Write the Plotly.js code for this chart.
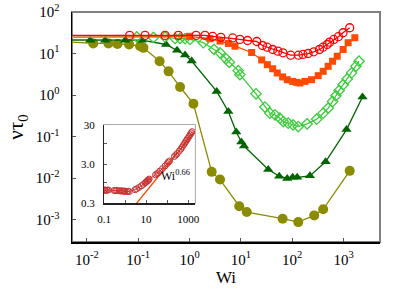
<!DOCTYPE html>
<html>
<head>
<meta charset="utf-8">
<script src="https://cdn.plot.ly/plotly-3.0.1.min.js"></script>
<style>html,body{margin:0;padding:0;background:#fff;}#chart{width:415px;height:291px;}</style>
</head>
<body>
<div id="chart"></div>
<script>
// ---- main panel data (Wi, nu*tau0) ----
const redWi  = [0.003,0.068,0.136,0.333,0.605,1.34,2.0,2.82,4.07,6.92,9.55,13.5,20.4,26.3,32.4,41.7,52.5,66.1,93.3,132,162,204,263,339,398,479,537,646,794,977,1318];
const redVal = [27.3,27.3,27.3,27.3,27.3,27.3,27.3,25.8,24.5,23.7,21.9,20.6,19.5,15.6,14.2,12.5,11.4,10.4,9.1,9.1,9.5,10.0,11.0,12.5,14.2,16.5,18.8,21.8,25.4,31.6,41.7];

const orgWi  = [0.003,1.0,2.51,3.93,5.69,7.67,16.2,25.4,32.7,41.6,51.1,65.0,80.0,102,122,141,177,238,321,401,501,611,752,982,1230,1660];
const orgVal = [26.5,26.0,22.7,19.9,17.5,15.0,10.6,7.0,5.4,4.3,3.4,2.73,2.34,2.13,2.02,1.95,2.13,2.34,2.93,3.72,4.92,6.52,8.6,12.5,18.2,24.0];

const grnWi  = [0.003,0.094,0.198,0.333,0.522,0.653,0.817,1.02,1.85,3.0,3.92,5.13,5.94,8.89,9.59,19.7,29.4,36.8,46.0,57.5,66.8,83.6,104,131,195,299,401,501,611,708,820,982,1175,1430,1740,2000];
const grnVal = [24.4,25.1,24.4,25.1,23.1,23.1,22.7,21.8,18.2,12.5,10.4,7.45,6.15,3.87,3.10,1.07,0.513,0.366,0.333,0.277,0.230,0.210,0.191,0.174,0.202,0.262,0.366,0.484,0.700,0.962,1.29,1.77,2.44,3.41,4.92,6.52];

const dgrWi  = [0.003,0.0116,0.0227,0.0556,0.117,0.349,0.571,0.817,1.10,3.38,5.69,8.13,10.2,11.5,34.1,55.8,80.0,102,125,221,447,1143,2340];
const dgrVal = [21.2,21.0,21.0,21.0,21.0,16.5,12.0,9.2,6.58,1.22,0.401,0.129,0.074,0.059,0.0161,0.0111,0.0098,0.0104,0.0104,0.0113,0.0247,0.147,0.895];

const olvWi  = [0.003,0.0133,0.0263,0.0394,0.0665,0.109,0.126,0.261,0.390,0.653,1.19,2.70,3.92,9.31,13.0,65.0,131,268,401,1318];
const olvVal = [19.5,17.5,17.5,17.0,16.5,15.0,13.7,6.52,3.72,1.56,0.615,0.0141,0.0092,0.0021,0.00152,0.00105,0.00087,0.00126,0.00177,0.0149];

// ---- inset data ----
const insWi  = [0.1,0.11,0.12,0.14,0.16,0.3,0.35,0.4,0.5,0.6,0.7,0.8,0.9,1.0,1.2,1.4,1.6,3.0,3.5,4.5,6.0,7.5,9.0,10,11,12,13,14,28,33,38,45,60,80,100,115,130,220,260,300,380,450,520,600,680,760,850,950,1100,1250,1400,1550];
const insVal = [0.65,0.66,0.64,0.65,0.66,0.64,0.63,0.64,0.63,0.62,0.63,0.61,0.62,0.61,0.60,0.61,0.60,0.67,0.70,0.76,0.84,0.92,1.0,1.05,1.1,1.15,1.2,1.25,1.6,1.7,1.8,2.0,2.3,2.7,3.1,3.4,3.6,4.7,5.1,5.6,6.5,7.3,8.2,9.2,10.2,11.2,12.3,13.5,15.2,17.0,18.8,20.2];
const fitWi  = [3.5, 2100];
const fitVal = [0.30, 20.4];
const fitLabel = 'Wi<sup>0.66</sup>';

const mainTickVals = [0.01,0.1,1,10,100,1000];
const mainTickText = ['10<sup>-2</sup>','10<sup>-1</sup>','10<sup>0</sup>','10<sup>1</sup>','10<sup>2</sup>','10<sup>3</sup>'];
const yTickVals = [0.001,0.01,0.1,1,10,100];
const yTickText = ['10<sup>-3</sup>','10<sup>-2</sup>','10<sup>-1</sup>','10<sup>0</sup>','10<sup>1</sup>','10<sup>2</sup>'];
const insXVals = [0.1,1,10,100,1000];
const insXText = ['0.1','','10','','1000'];
const insYVals = [0.3,1,3,10,30];
const insYText = ['0.3','','3.0','','30'];

const serif = 'Liberation Serif, Times New Roman, serif';

function series(x, y, color, symbol, size, open) {
  return {
    x: x, y: y, type: 'scatter', mode: 'lines+markers',
    xaxis: 'x', yaxis: 'y',
    line: {color: color, width: 1.3},
    marker: {color: color, symbol: symbol, size: size,
             line: {color: color, width: open ? 1.3 : 0}},
    cliponaxis: true, showlegend: false, hoverinfo: 'skip'
  };
}

const data = [
  series(olvWi, olvVal, '#8b8b00', 'circle', 10, false),
  series(dgrWi, dgrVal, '#006400', 'triangle-up', 9, false),
  series(grnWi, grnVal, '#3ccc3c', 'diamond-open', 8, true),
  series(orgWi, orgVal, '#ff4a00', 'square', 7, false),
  series(redWi, redVal, '#ff0000', 'circle-open', 8, true),
  {x: fitWi, y: fitVal, type: 'scatter', mode: 'lines', xaxis: 'x2', yaxis: 'y2',
   line: {color: '#ff4a00', width: 1.5}, showlegend: false, hoverinfo: 'skip'},
  {x: insWi, y: insVal, type: 'scatter', mode: 'lines+markers', xaxis: 'x2', yaxis: 'y2',
   line: {color: '#c83232', width: 1},
   marker: {symbol: 'circle-open', size: 6, color: '#c83232', line: {color: '#c83232', width: 1}},
   showlegend: false, hoverinfo: 'skip'}
];

const xIn0 = 0.104, xIn1 = 0.399, yIn0 = 0.168, yIn1 = 0.509;

const layout = {
  width: 415, height: 291,
  margin: {l: 72, r: 35, t: 12, b: 49},
  paper_bgcolor: '#fff', plot_bgcolor: '#fff',
  font: {family: serif, color: '#000'},
  xaxis: {
    type: 'log', range: [-2.29, 3.71], tickvals: mainTickVals, ticktext: mainTickText,
    ticks: 'inside', ticklen: 4, tickcolor: '#555', tickwidth: 1,
    showline: true, linecolor: '#000', linewidth: 1.5, showgrid: false, zeroline: false,
    tickfont: {family: serif, size: 15}, ticklabelstandoff: 3,
    title: {text: 'Wi', font: {family: serif, size: 17}, standoff: 4}
  },
  yaxis: {
    type: 'log', range: [-3.54, 2], tickvals: yTickVals, ticktext: yTickText,
    ticks: 'inside', ticklen: 4, tickcolor: '#555', tickwidth: 1,
    showline: true, linecolor: '#000', linewidth: 1.5, showgrid: false, zeroline: false,
    tickfont: {family: serif, size: 15}, ticklabelstandoff: 8,
    title: {text: 'ντ<sub>0</sub>', font: {family: serif, size: 21}, standoff: 6}
  },
  xaxis2: {
    type: 'log', range: [-1.0, 3.32], domain: [xIn0, xIn1], anchor: 'y2',
    tickvals: insXVals, ticktext: insXText,
    ticks: 'inside', ticklen: 3, tickcolor: '#555',
    showline: true, linecolor: '#222', linewidth: 1.2, showgrid: false, zeroline: false,
    tickfont: {family: serif, size: 11}, ticklabelstandoff: 5
  },
  yaxis2: {
    type: 'log', range: [-0.523, 1.477], domain: [yIn0, yIn1], anchor: 'x2',
    tickvals: insYVals, ticktext: insYText,
    ticks: 'inside', ticklen: 3, tickcolor: '#555',
    showline: true, linecolor: '#222', linewidth: 1.2, showgrid: false, zeroline: false,
    tickfont: {family: serif, size: 11}, ticklabelstandoff: 6
  },
  shapes: [
    {type: 'rect', xref: 'paper', yref: 'paper', x0: 0, x1: 1, y0: 0, y1: 1,
     line: {color: '#808080', width: 2}, layer: 'below'},
    {type: 'rect', xref: 'paper', yref: 'paper', x0: xIn0, x1: xIn1, y0: yIn0, y1: yIn1,
     line: {color: '#888', width: 1.5}, fillcolor: '#fff', layer: 'below'}
  ],
  annotations: [
    {text: fitLabel, xref: 'x2', yref: 'y2', x: Math.log10(260), y: Math.log10(1.5),
     showarrow: false, font: {family: serif, size: 12, color: '#000'}, xanchor: 'center'}
  ]
};

Plotly.newPlot('chart', data, layout, {staticPlot: true, displayModeBar: false});
</script>
</body>
</html>
